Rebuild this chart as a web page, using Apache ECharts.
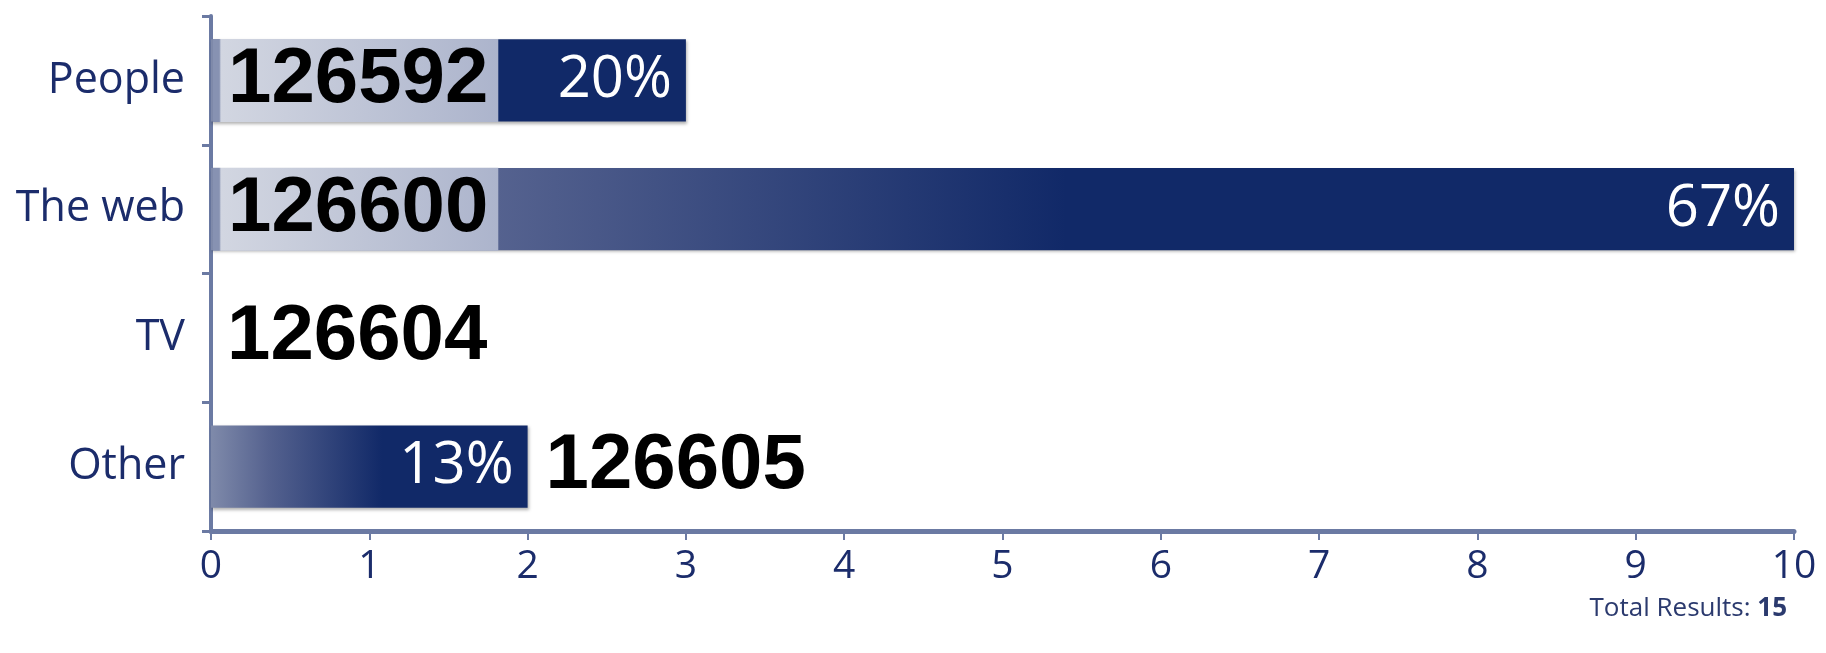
<!DOCTYPE html>
<html>
<head>
<meta charset="utf-8">
<script src="https://cdn.jsdelivr.net/npm/echarts@6/dist/echarts.min.js"></script>
<style>
html,body{margin:0;padding:0;background:#fff;}
#chart{width:1826px;height:653px;}
</style>
</head>
<body>
<div id="chart"></div>
<script>
const categories = ['People', 'The web', 'TV', 'Other'];
const counts = [3, 10, 0, 2];
const ids = [126592, 126600, 126604, 126605];
const xTicks = [0, 1, 2, 3, 4, 5, 6, 7, 8, 9, 10];

const total = counts.reduce((a, b) => a + b, 0);
const NAVY = '#112968';
const AXIS = '#6b7aa3';
const TEXT = '#1b2c6b';

const barFill = new echarts.graphic.LinearGradient(0, 0, 1, 0, [
  { offset: 0, color: '#7f8aaa' },
  { offset: 0.18, color: '#55628f' },
  { offset: 0.54, color: NAVY },
  { offset: 1, color: NAVY }
]);
const boxFill = new echarts.graphic.LinearGradient(0, 0, 1, 0, [
  { offset: 0, color: '#8792b2' },
  { offset: 0.022, color: '#8792b2' },
  { offset: 0.028, color: '#d2d6e1' },
  { offset: 1, color: '#acb4cc' }
]);

const idData = counts.map((v, i) => {
  const inside = v >= 3;
  return {
    value: v,
    label: inside ? {
      position: 'insideLeft', distance: 2,
      backgroundColor: boxFill,
      padding: [0, 10, 0, 15], lineHeight: 83
    } : {
      position: 'right', distance: v > 0 ? 18 : 16
    }
  };
});

const chart = echarts.init(document.getElementById('chart'));
chart.setOption({
  animation: false,
  grid: { left: 211, right: 32, top: 16, bottom: 122, containLabel: false },
  title: {
    text: '{a|Total Results: }{b|' + total + '}',
    right: 34, top: 591,
    textStyle: {
      fontWeight: 'normal',
      rich: {
        a: { fontFamily: 'Open Sans', fontSize: 26, fontWeight: 'normal', color: '#2b3a6e' },
        b: { fontFamily: 'Open Sans', fontSize: 26, fontWeight: 'bold', color: '#2b3a6e' }
      }
    }
  },
  xAxis: {
    type: 'value', min: xTicks[0], max: xTicks[xTicks.length - 1], interval: 1,
    axisLine: { show: true, lineStyle: { color: AXIS, width: 5 } },
    axisTick: { show: true, length: 9, lineStyle: { color: AXIS, width: 2 } },
    splitLine: { show: false },
    axisLabel: { color: TEXT, fontSize: 39, fontFamily: 'Open Sans', margin: 16 }
  },
  yAxis: {
    type: 'category', data: categories, inverse: true,
    axisLine: { show: true, lineStyle: { color: AXIS, width: 4 } },
    axisTick: { show: true, length: 9, lineStyle: { color: AXIS, width: 3 } },
    axisLabel: { color: TEXT, fontSize: 43, fontFamily: 'Open Sans', margin: 26 }
  },
  series: [
    {
      type: 'bar', data: counts, barCategoryGap: '36%', barGap: '-100%',
      itemStyle: {
        color: barFill,
        shadowColor: 'rgba(0,0,0,0.3)', shadowBlur: 3, shadowOffsetX: 1, shadowOffsetY: 2
      },
      label: {
        show: true, position: 'insideRight', distance: 14,
        color: '#fff', fontSize: 58, fontFamily: 'Open Sans',
        formatter: p => p.value > 0 ? Math.round(p.value / total * 100) + '%' : ''
      }
    },
    {
      type: 'bar', data: idData, barCategoryGap: '36%', barGap: '-100%',
      itemStyle: { color: 'rgba(0,0,0,0)' },
      label: {
        show: true, color: '#000', fontSize: 78, fontWeight: 'bold',
        fontFamily: 'Liberation Sans',
        formatter: p => String(ids[p.dataIndex])
      }
    }
  ]
});
</script>
</body>
</html>
